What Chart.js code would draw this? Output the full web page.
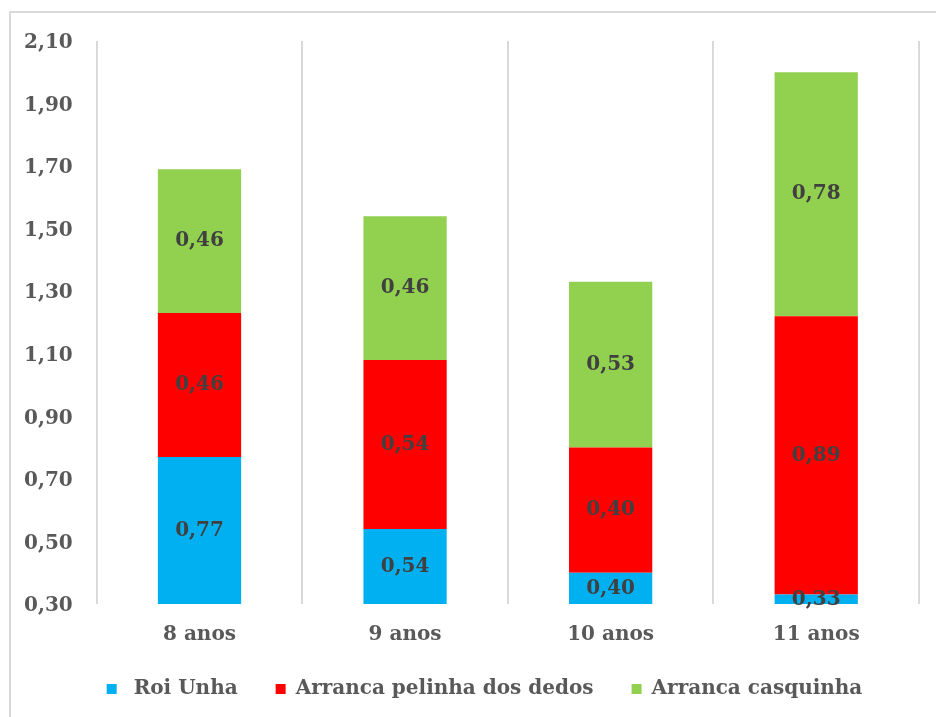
<!DOCTYPE html>
<html>
<head>
<meta charset="utf-8">
<script src="https://cdn.jsdelivr.net/npm/chart.js@4/dist/chart.umd.min.js"></script>
<style>
    html, body { margin: 0; padding: 0; background: #fff; }
    #box { width: 936px; height: 717px; }
</style>
</head>
<body>
<div id="box"><canvas id="chart"></canvas></div>
<script>
const categories = ["8 anos", "9 anos", "10 anos", "11 anos"];
const roiUnha = [0.77, 0.54, 0.40, 0.33];
const pelinha = [0.46, 0.54, 0.40, 0.89];
const casquinha = [0.46, 0.46, 0.53, 0.78];
const seriesNames = [" Roi Unha", "Arranca pelinha dos dedos", "Arranca casquinha"];
const yMin = 0.30, yMax = 2.10, yStep = 0.20;

const FONT = "'DejaVu Serif', serif";
const fmt = v => v.toFixed(2).replace(".", ",");

// outer frame of the chart object
const framePlugin = {
    id: "frame",
    beforeDraw(chart) {
        const ctx = chart.ctx;
        ctx.save();
        ctx.strokeStyle = "#d9d9d9";
        ctx.lineWidth = 2;
        ctx.strokeRect(10, 12, 940, 720);
        ctx.restore();
    }
};

// legend sits a bit right of centre in the original
const legendShift = {
    id: "legendShift",
    afterLayout(chart) {
        chart.legend.left += 25;
        chart.legend.right += 25;
    }
};

// value labels, centred in the visible part of each segment
const valueLabels = {
    id: "valueLabels",
    afterDatasetsDraw(chart) {
        const ctx = chart.ctx;
        const area = chart.chartArea;
        ctx.save();
        ctx.font = "bold 20px " + FONT;
        ctx.fillStyle = "#404040";
        ctx.textAlign = "center";
        ctx.textBaseline = "middle";
        chart.data.datasets.forEach((ds, i) => {
            chart.getDatasetMeta(i).data.forEach((bar, j) => {
                const top = Math.max(Math.min(bar.y, bar.base), area.top);
                const bottom = Math.min(Math.max(bar.y, bar.base), area.bottom);
                ctx.fillText(fmt(ds.data[j]), bar.x, (top + bottom) / 2);
            });
        });
        ctx.restore();
    }
};

new Chart(document.getElementById("chart"), {
    type: "bar",
    data: {
        labels: categories,
        datasets: [
            { label: seriesNames[0], data: roiUnha, backgroundColor: "#00b0f0" },
            { label: seriesNames[1], data: pelinha, backgroundColor: "#ff0000" },
            { label: seriesNames[2], data: casquinha, backgroundColor: "#92d050" }
        ]
    },
    options: {
        responsive: true,
        maintainAspectRatio: false,
        animation: false,
        categoryPercentage: 1,
        barPercentage: 0.405,
        layout: { padding: { left: 0, right: 17, top: 41, bottom: 8 } },
        scales: {
            x: {
                stacked: true,
                grid: { offset: true, color: "#d9d9d9", lineWidth: 2, drawTicks: false },
                border: { display: false },
                ticks: { color: "#595959", padding: 19, font: { family: FONT, size: 20, weight: "bold" } },
                afterFit: s => { s.height -= 25; }
            },
            y: {
                stacked: true,
                min: yMin,
                max: yMax,
                grid: { display: false, drawTicks: false },
                border: { display: false },
                ticks: {
                    stepSize: yStep,
                    padding: 24,
                    labelOffset: 2,
                    color: "#595959",
                    font: { family: FONT, size: 20, weight: "bold" },
                    callback: v => fmt(v)
                }
            }
        },
        plugins: {
            legend: {
                position: "bottom",
                labels: {
                    boxWidth: 10,
                    boxHeight: 10,
                    padding: 38,
                    color: "#595959",
                    font: { family: FONT, size: 20, weight: "bold" }
                }
            },
            tooltip: { enabled: false }
        }
    },
    plugins: [framePlugin, legendShift, valueLabels]
});
</script>
</body>
</html>
